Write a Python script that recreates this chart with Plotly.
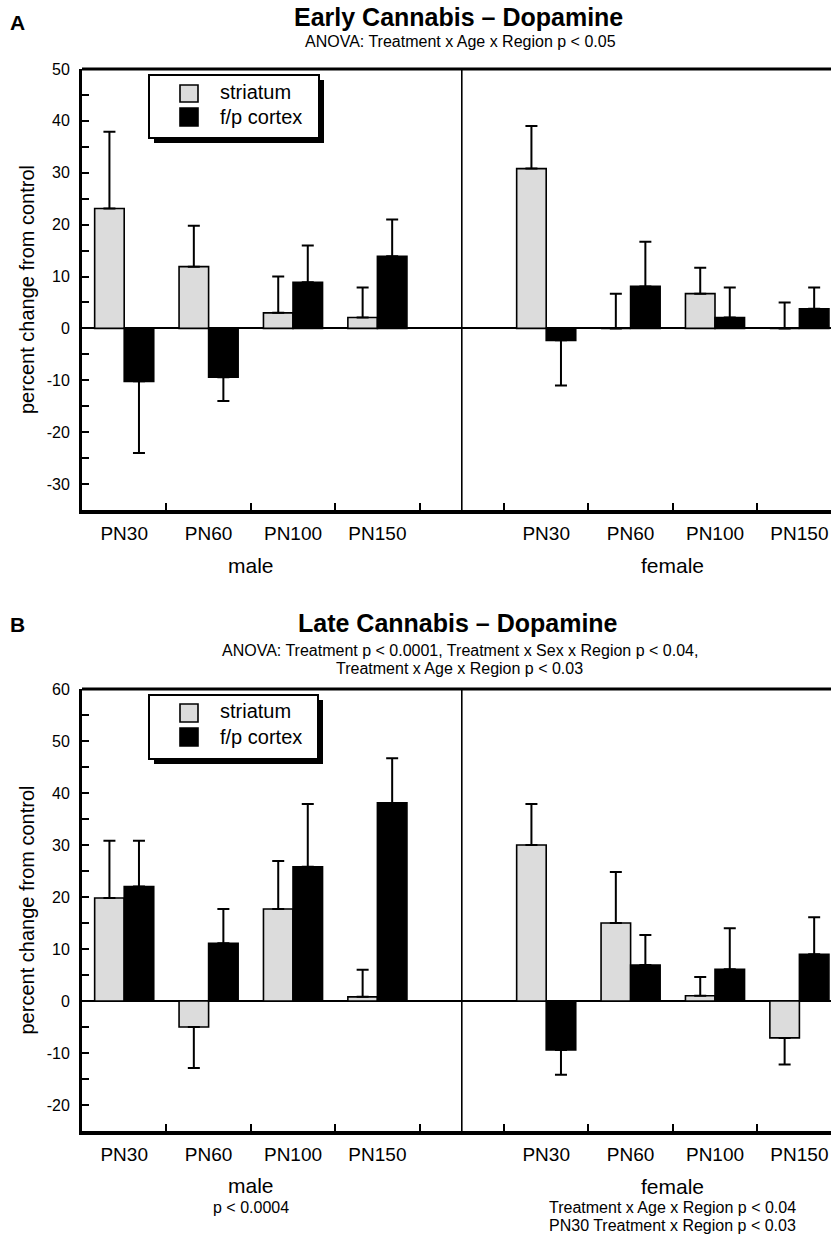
import plotly.graph_objects as go

# ---------------- data ----------------
ages = ["PN30", "PN60", "PN100", "PN150"]
sexes = ["male", "female"]
regions = ["striatum", "f/p cortex"]

# Panel A: Early Cannabis (male PN30..PN150, then female PN30..PN150)
early_striatum = [23.1, 11.9, 3.0, 2.1, 30.8, 0.0, 6.7, 0.0]
early_striatum_err = [14.8, 7.9, 7.0, 5.8, 8.2, 6.7, 5.0, 5.0]
early_cortex = [-10.2, -9.4, 8.9, 13.9, -2.3, 8.1, 2.1, 3.8]
early_cortex_err = [13.8, 4.6, 7.1, 7.1, 8.7, 8.6, 5.8, 4.1]

# Panel B: Late Cannabis
late_striatum = [19.8, -5.0, 17.7, 0.8, 30.0, 15.0, 1.0, -7.1]
late_striatum_err = [11.0, 7.9, 9.2, 5.2, 7.9, 9.8, 3.6, 5.1]
late_cortex = [22.0, 11.1, 25.8, 38.1, -9.4, 6.9, 6.1, 9.0]
late_cortex_err = [8.8, 6.6, 12.1, 8.6, 4.8, 5.8, 7.9, 7.1]

yticks_A = [50, 40, 30, 20, 10, 0, -10, -20, -30]
yticks_B = [60, 50, 40, 30, 20, 10, 0, -10, -20]

# ---------------- style / geometry ----------------
W, H = 831, 1237
ML = 82
FONT = "Liberation Sans, Arial, Helvetica, sans-serif"
GRAY = "#dcdcdc"
BW = 0.35  # bar width (category units)

# slot centres: male 0.5..3.5, gap slot 4, female 5.5..8.5
centers = [i + 0.5 for i in range(4)] + [i + 5.5 for i in range(4)]
XMAX = (W - ML) / 84.4

def px(x):
    return (x - ML) / (W - ML)

def py(y):
    return (H - y) / H

def err_dict(vals, errs):
    up = [e if v >= 0 else 0 for v, e in zip(vals, errs)]
    dn = [e if v < 0 else 0 for v, e in zip(vals, errs)]
    return dict(type="data", symmetric=False, array=up, arrayminus=dn,
                color="black", thickness=2, width=6)

fig = go.Figure()

panels = [
    dict(x="x", y="y", s=early_striatum, se=early_striatum_err,
         c=early_cortex, ce=early_cortex_err),
    dict(x="x2", y="y2", s=late_striatum, se=late_striatum_err,
         c=late_cortex, ce=late_cortex_err),
]

for p in panels:
    fig.add_trace(go.Bar(
        x=[c - BW / 2 for c in centers], y=p["s"], width=BW, name=regions[0],
        marker=dict(color=GRAY, line=dict(color="black", width=1.6)),
        error_y=err_dict(p["s"], p["se"]), xaxis=p["x"], yaxis=p["y"],
        showlegend=False))
    fig.add_trace(go.Bar(
        x=[c + BW / 2 for c in centers], y=p["c"], width=BW, name=regions[1],
        marker=dict(color="black", line=dict(color="black", width=1.6)),
        error_y=err_dict(p["c"], p["ce"]), xaxis=p["x"], yaxis=p["y"],
        showlegend=False))

# ---------------- axes ----------------
dom_A = [py(510), py(69)]
dom_B = [py(1131), py(689)]

def xaxis(domain_anchor):
    return dict(
        domain=[0, 1], range=[0, XMAX], anchor=domain_anchor,
        tickvals=centers, ticktext=ages * 2, ticks="",
        tickfont=dict(family=FONT, size=19, color="black"),
        ticklabelstandoff=3,
        showline=True, linecolor="black", linewidth=4,
        showgrid=False, zeroline=False, fixedrange=True,
        minor=dict(tickvals=[1, 2, 3, 4, 5, 6, 7, 8], ticks="inside",
                   ticklen=7, tickwidth=1.5, tickcolor="black", showgrid=False),
    )

def yaxis(domain, rng, ticks, anchor):
    return dict(
        domain=domain, range=rng, anchor=anchor,
        tickvals=ticks, ticktext=[str(t) for t in ticks],
        ticks="inside", ticklen=7, tickwidth=1.5, tickcolor="black",
        tickfont=dict(family=FONT, size=16, color="black"),
        ticklabelstandoff=6,
        showline=True, linecolor="black", linewidth=3,
        showgrid=False, zeroline=True, zerolinecolor="black", zerolinewidth=1.6,
        fixedrange=True,
        title=dict(text="percent change from control",
                   font=dict(family=FONT, size=20, color="black"), standoff=7),
        minor=dict(dtick=5, ticks="inside", ticklen=7, tickwidth=1.5,
                   tickcolor="black", showgrid=False),
    )

fig.update_layout(
    xaxis=xaxis("y"),
    yaxis=yaxis(dom_A, [-35, 50], yticks_A, "x"),
    xaxis2=xaxis("y2"),
    yaxis2=yaxis(dom_B, [-25, 60], yticks_B, "x2"),
)

shapes = []
for ax, ydom in (("x", "y"), ("x2", "y2")):
    # top border
    shapes.append(dict(type="line", xref=f"{ax} domain", yref=f"{ydom} domain",
                       x0=0, x1=1, y0=1, y1=1, line=dict(color="black", width=3)))
    # sex divider
    shapes.append(dict(type="line", xref=ax, yref=f"{ydom} domain",
                       x0=4.5, x1=4.5, y0=0, y1=1, line=dict(color="black", width=1.6)))

# manual legends with drop shadow
for (bx0, by0, bx1, by1, sq1, sq2) in (
        (149, 75, 319, 138, (85, 102), (108, 126)),
        (149, 695, 318, 759, (704, 722), (728, 746))):
    shapes.append(dict(type="rect", xref="paper", yref="paper",
                       x0=px(bx0 + 5), x1=px(bx1 + 5), y0=py(by0 + 5), y1=py(by1 + 5),
                       fillcolor="black", line=dict(width=0)))
    shapes.append(dict(type="rect", xref="paper", yref="paper",
                       x0=px(bx0), x1=px(bx1), y0=py(by0), y1=py(by1),
                       fillcolor="white", line=dict(color="black", width=2)))
    shapes.append(dict(type="rect", xref="paper", yref="paper",
                       x0=px(180), x1=px(198), y0=py(sq1[0]), y1=py(sq1[1]),
                       fillcolor=GRAY, line=dict(color="black", width=1.6)))
    shapes.append(dict(type="rect", xref="paper", yref="paper",
                       x0=px(180), x1=px(198), y0=py(sq2[0]), y1=py(sq2[1]),
                       fillcolor="black", line=dict(color="black", width=1.6)))

annotations = []

def txt(text, x, y, size, bold=False, xref="paper", xanchor="center"):
    annotations.append(dict(
        text=f"<b>{text}</b>" if bold else text, x=x, y=py(y), xref=xref, yref="paper",
        showarrow=False, xanchor=xanchor, yanchor="middle",
        font=dict(family=FONT, size=size, color="black")))

for (t1, t2) in ((92, 117), (711, 737)):
    txt(regions[0], px(218), t1, 20, xanchor="left")
    txt(regions[1], px(218), t2, 20, xanchor="left")

# panel letters
txt("A", px(8), 22, 21, bold=True, xanchor="left")
txt("B", px(8), 624, 21, bold=True, xanchor="left")

# titles
txt("Early Cannabis – Dopamine", px(458), 17, 25, bold=True)
txt("ANOVA: Treatment x Age x Region p < 0.05", px(461), 42, 16)
txt("Late Cannabis – Dopamine", px(458), 623, 25, bold=True)
txt("ANOVA: Treatment p < 0.0001, Treatment x Sex x Region p < 0.04,", px(460), 650, 16)
txt("Treatment x Age x Region p < 0.03", px(460), 668, 16)

# sex labels
txt(sexes[0], 2.0, 565, 21, xref="x")
txt(sexes[1], 7.0, 565, 21, xref="x")
txt(sexes[0], 2.0, 1185, 21, xref="x2")
txt(sexes[1], 7.0, 1186, 21, xref="x2")
txt("p < 0.0004", 2.0, 1207, 16, xref="x2")
txt("Treatment x Age x Region p < 0.04", 7.0, 1207, 16, xref="x2")
txt("PN30 Treatment x Region p < 0.03", 7.0, 1225, 16, xref="x2")

fig.update_layout(
    template="none",
    width=W, height=H,
    margin=dict(l=ML, r=0, t=0, b=0, pad=0),
    paper_bgcolor="white", plot_bgcolor="white",
    barmode="overlay",
    shapes=shapes, annotations=annotations,
    showlegend=False,
    font=dict(family=FONT, color="black"),
)

fig.write_html("out.html")
